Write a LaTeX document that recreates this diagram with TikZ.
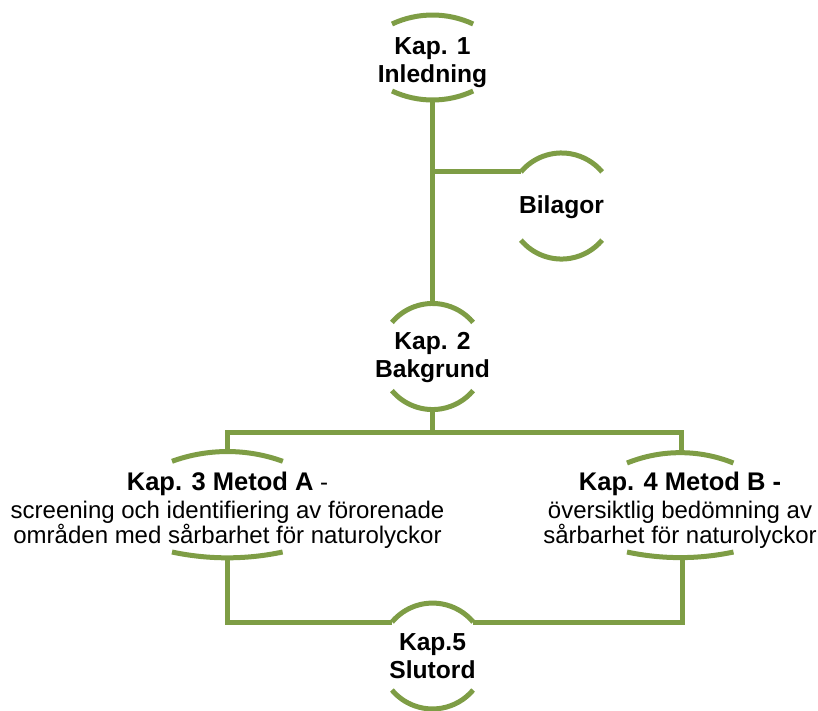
\documentclass[tikz,border=0pt]{standalone}
\usepackage{fontspec}
\setmainfont{Liberation Sans}
\definecolor{olive}{HTML}{7E9D45}
\begin{document}
\begin{tikzpicture}[x=1pt,y=-1pt,
  link/.style={draw=olive,line width=5pt},
  arcline/.style={draw=olive,line width=5pt},
  head/.style={font=\bfseries\fontsize{24.6}{28}\selectfont,align=center,inner sep=0pt},
  desc/.style={font=\fontsize{24}{24.5}\selectfont,align=center,inner sep=0pt}]
\useasboundingbox (0,0) rectangle (818,710);
% text nodes
\node[head] (k1) at (432.5,63) {Kap. 1\\Inledning};
\node[head] (bil) at (561.5,207) {Bilagor};
\node[head] (k2) at (432.5,358) {Kap. 2\\Bakgrund};
\node[desc] (k3) at (227.5,510) {{\bfseries\fontsize{25.5}{26}\selectfont Kap. 3 Metod A} -\\[4pt]screening och identifiering av förorenade\\områden med sårbarhet för naturolyckor};
\node[desc] (k4) at (680,510) {{\bfseries\fontsize{25.5}{26}\selectfont Kap. 4 Metod B -}\\[4pt]översiktlig bedömning av\\sårbarhet för naturolyckor};
\node[head] (k5) at (432.5,656) {Kap.5\\Slutord};
% arc end points and apexes
\coordinate (k1b) at (432.5,100);
\coordinate (k2t) at (432.5,303.5);
\coordinate (k2b) at (432.5,409.5);
\coordinate (bilL) at (520.9,171.9);
\coordinate (k3t) at (227.5,451.5);
\coordinate (k3b) at (227.5,557.8);
\coordinate (k4t) at (681.5,452.5);
\coordinate (k4b) at (682.5,557.6);
\coordinate (k5L) at (392,622);
\coordinate (k5R) at (473,622);
\coordinate (j2) at (432.5,432);
% arcs
\draw[arcline] (392,24) arc[start angle=115,end angle=65,radius=96pt];
\draw[arcline] (392,91) arc[start angle=245,end angle=295,radius=96pt];
\draw[arcline] (bilL) arc[start angle=140,end angle=40,radius=53pt];
\draw[arcline] (520.9,240.1) arc[start angle=220,end angle=320,radius=53pt];
\draw[arcline] (391.9,322.4) arc[start angle=140,end angle=40,radius=53pt];
\draw[arcline] (391.9,390.6) arc[start angle=220,end angle=320,radius=53pt];
\draw[arcline] (172,461.3) arc[start angle=110,end angle=70,radius=162pt];
\draw[arcline] (172,552) arc[start angle=258,end angle=282,radius=266pt];
\draw[arcline] (627,463) arc[start angle=112,end angle=68,radius=142pt];
\draw[arcline] (627,552) arc[start angle=258,end angle=282,radius=256pt];
\draw[arcline] (k5L) arc[start angle=140,end angle=40,radius=53pt];
\draw[arcline] (391.9,690) arc[start angle=220,end angle=320,radius=53pt];
% connectors
\draw[link] (k1b) -- (k2t);
\draw[link] (k1b |- bilL) -- (bilL);
\draw[link] (k2b) -- (j2);
\draw[link] (j2) -| (k3t);
\draw[link] (j2) -| (k4t);
\draw[link] (k3b) |- (k5L);
\draw[link] (k4b) |- (k5R);
\end{tikzpicture}
\end{document}
